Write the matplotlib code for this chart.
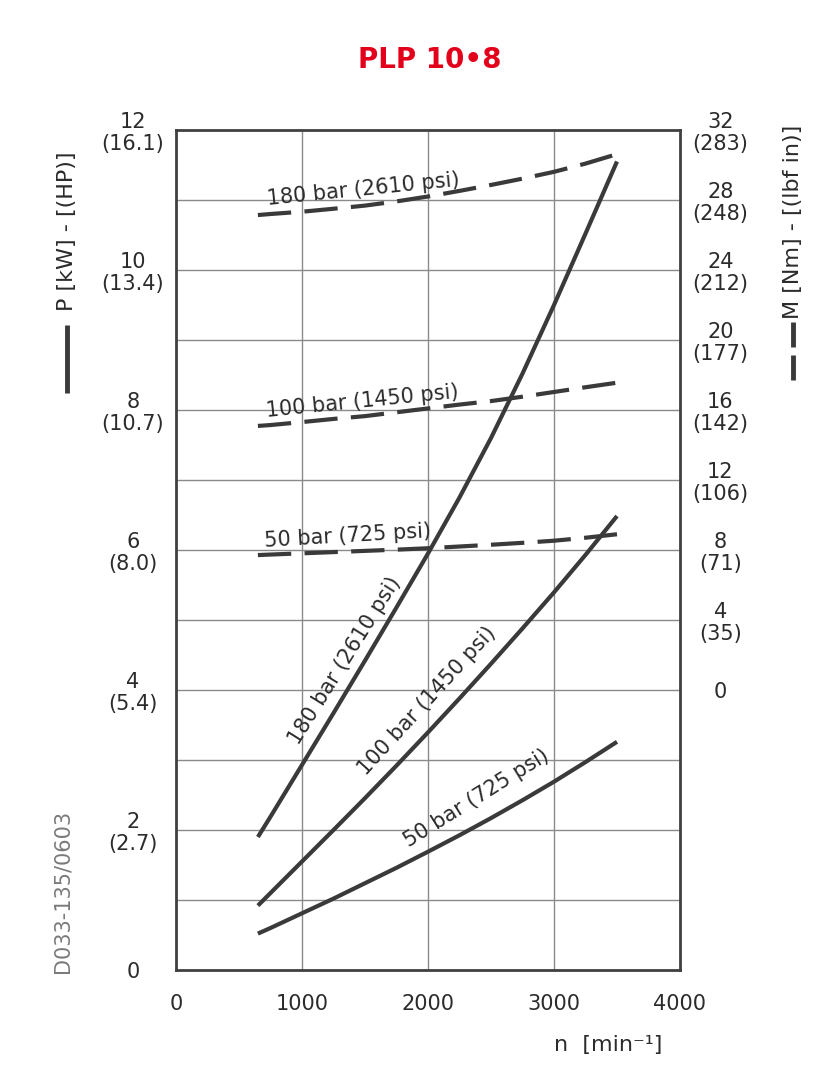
import matplotlib
matplotlib.use("Agg")
import matplotlib.pyplot as plt
from matplotlib.lines import Line2D

FONT = ['Liberation Sans Narrow', 'DejaVu Sans Condensed', 'DejaVu Sans']
plt.rcParams['font.family'] = FONT

# ---- data -------------------------------------------------------------
rpm = [650, 750, 1000, 1250, 1500, 1750, 2000, 2250, 2500, 2750, 3000, 3250, 3500]
# power curves (kW) - solid
power_180 = [1.90, 2.19, 2.93, 3.67, 4.42, 5.18, 5.95, 6.75, 7.60, 8.52, 9.50, 10.52, 11.55]
power_100 = [0.92, 1.10, 1.55, 2.00, 2.455, 2.92, 3.395, 3.88, 4.375, 4.88, 5.395, 5.93, 6.485]
power_50 = [0.52, 0.60, 0.81, 1.02, 1.24, 1.46, 1.69, 1.925, 2.17, 2.425, 2.69, 2.97, 3.26]
# torque curves (Nm) - dashed
torque_180 = [27.14, 27.20, 27.33, 27.50, 27.68, 27.92, 28.20, 28.52, 28.86, 29.22, 29.61, 30.08, 30.62]
torque_100 = [15.09, 15.14, 15.31, 15.49, 15.65, 15.87, 16.09, 16.31, 16.51, 16.76, 17.03, 17.30, 17.56]
torque_50 = [7.71, 7.74, 7.81, 7.88, 7.95, 8.02, 8.10, 8.20, 8.30, 8.41, 8.53, 8.70, 8.90]

power_labels = ["180 bar (2610 psi)", "100 bar (1450 psi)", "50 bar (725 psi)"]

x_ticks = [0, 1000, 2000, 3000, 4000]
p_ticks = [0, 2, 4, 6, 8, 10, 12]
p_hp = ["", "2.7", "5.4", "8.0", "10.7", "13.4", "16.1"]
m_ticks = [0, 4, 8, 12, 16, 20, 24, 28, 32]
m_lbfin = ["", "35", "71", "106", "142", "177", "212", "248", "283"]

# ---- figure -----------------------------------------------------------
W, H = 836, 1080
fig = plt.figure(figsize=(W / 100, H / 100), dpi=100)
ax = fig.add_axes([176 / W, 1 - 970 / H, (680 - 176) / W, (970 - 130) / H])

LINE = '#3a3a3a'
GRID = '#8a8a8a'
TXT = '#2b2b2b'

ax.set_xlim(0, 4000)
ax.set_ylim(0, 12)
for v in range(1000, 4000, 1000):
    ax.axvline(v, color=GRID, lw=1.0, zorder=1)
for v in range(1, 12):
    ax.axhline(v, color=GRID, lw=1.0, zorder=1)
for s in ax.spines.values():
    s.set_color('#404040')
    s.set_linewidth(2.0)

ax.set_xticks(x_ticks)
ax.set_xticklabels([str(v) for v in x_ticks], fontsize=15, color=TXT)
ax.tick_params(axis='x', length=0, pad=17)

ax.set_yticks(p_ticks)
ax.set_yticklabels([f"{p}\n({h})" if h else f"{p}" for p, h in zip(p_ticks, p_hp)],
                   fontsize=15, color=TXT, linespacing=1.15)
ax.tick_params(axis='y', length=0, pad=31)
for lab in ax.get_yticklabels():
    lab.set_horizontalalignment('center')
    lab.set_multialignment('center')

ax2 = ax.twinx()
ax2.set_ylim(-16, 32)
ax2.set_yticks(m_ticks)
ax2.set_yticklabels([f"{m}\n({l})" if l else f"{m}" for m, l in zip(m_ticks, m_lbfin)],
                    fontsize=15, color=TXT, linespacing=1.15)
ax2.tick_params(axis='y', length=0, pad=29)
for lab in ax2.get_yticklabels():
    lab.set_horizontalalignment('center')
    lab.set_multialignment('center')
for s in ax2.spines.values():
    s.set_visible(False)

# power curves
for p in (power_180, power_100, power_50):
    ax.plot(rpm, p, color=LINE, lw=3.0, solid_capstyle='butt', solid_joinstyle='round', zorder=3)
# torque curves
for m in (torque_180, torque_100, torque_50):
    ax2.plot(rpm, m, color=LINE, lw=3.0, dashes=(8, 3.2), dash_capstyle='butt', zorder=3)

# curve labels (torque, near-horizontal)
lab_kw = dict(fontsize=15, color=TXT, rotation_mode='anchor')
fig.text(268 / W, 1 - 205 / H, power_labels[0], ha='left', va='baseline', rotation=5.7, **lab_kw)
fig.text(267 / W, 1 - 417 / H, power_labels[1], ha='left', va='baseline', rotation=5.7, **lab_kw)
fig.text(265 / W, 1 - 547 / H, power_labels[2], ha='left', va='baseline', rotation=3.4, **lab_kw)
# curve labels (power, steep)
fig.text(345 / W, 1 - 661 / H, power_labels[0], ha='center', va='center', rotation=58, **lab_kw)
fig.text(427 / W, 1 - 701 / H, power_labels[1], ha='center', va='center', rotation=47.5, **lab_kw)
fig.text(477 / W, 1 - 798 / H, power_labels[2], ha='center', va='center', rotation=32, **lab_kw)

# axis titles with line keys
fig.text(67 / W, 1 - 231 / H, "P [kW] - [(HP)]", rotation=90, ha='center', va='center',
         fontsize=16, color=TXT)
fig.add_artist(Line2D([67 / W, 67 / W], [1 - 325 / H, 1 - 393 / H], color=LINE, lw=3.5,
                      solid_capstyle='butt'))
fig.text(793 / W, 1 - 222 / H, "M [Nm] - [(lbf in)]", rotation=90, ha='center', va='center',
         fontsize=16, color=TXT)
for y0, y1 in ((322, 347), (355, 380)):
    fig.add_artist(Line2D([793 / W, 793 / W], [1 - y0 / H, 1 - y1 / H], color=LINE, lw=3.5,
                          solid_capstyle='butt'))

fig.text(608 / W, 1 - 1045 / H, "n  [min\u207b\u00b9]", ha='center', va='center',
         fontsize=16, color=TXT, family=FONT)
fig.text(62 / W, 1 - 891 / H, "D033-135/0603", rotation=90, ha='center', va='center',
         fontsize=15, color='#7a7a7a')

fig.text(430 / W, 1 - 60 / H, "PLP 10\u20228", ha='center', va='center', fontsize=20,
         fontweight='bold', color='#e2001a')

fig.savefig("out.png", dpi=100)
